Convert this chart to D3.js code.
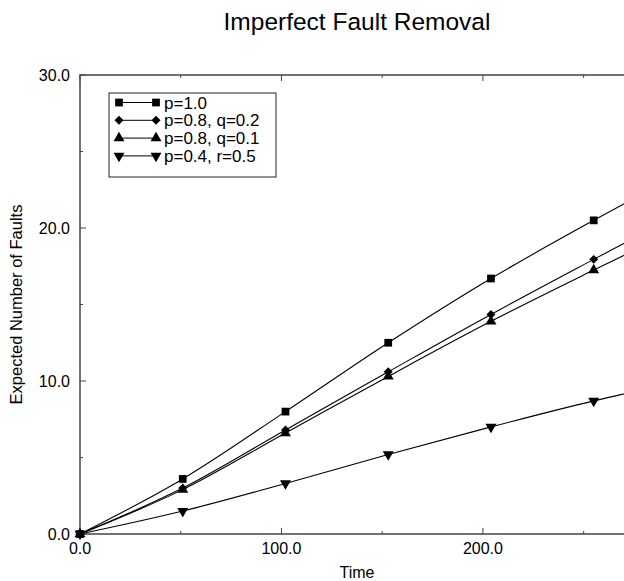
<!DOCTYPE html>
<html lang="en">
<head>
    <meta charset="UTF-8">
    <title>Imperfect Fault Removal</title>
    <style>
        body { margin: 0; background: #fff; }
        svg { display: block; font-family: 'Liberation Sans', Arial, sans-serif; }
    </style>
</head>
<body>
    <div id="chart"></div>
    <script src="https://d3js.org/d3.v7.min.js"></script>
    <script>
        // data (last point lies past the visible edge)
        const times = [0, 51, 102, 153, 204, 255, 306];
        const pFull = [0, 3.6, 8.0, 12.5, 16.7, 20.5, 24.1];
        const p8q2 = [0, 3.0, 6.8, 10.6, 14.35, 17.95, 21.5];
        const p8q1 = [0, 2.9, 6.6, 10.3, 13.9, 17.25, 20.5];
        const p4r5 = [0, 1.5, 3.3, 5.2, 7.0, 8.7, 10.2];
        const seriesNames = ['p=1.0', 'p=0.8, q=0.2', 'p=0.8, q=0.1', 'p=0.4, r=0.5'];
        const markerShapes = ['square', 'diamond', 'triangle', 'down'];
        const xTicks = [0, 100, 200];
        const xMinor = [50, 150, 250];
        const yTicks = [0, 10, 20, 30];
        const yMinor = [5, 15, 25];

        const width = 624, height = 581;
        const plotL = 80, plotR = 634, plotT = 75, plotB = 534;

        const x = d3.scaleLinear().domain([0, 275]).range([plotL, plotR]);
        const y = d3.scaleLinear().domain([0, 30]).range([plotB, plotT]);

        const svg = d3.select('#chart').append('svg')
            .attr('width', width)
            .attr('height', height);

        const frameColor = '#444';

        // ticks (pointing inward)
        const tickG = svg.append('g').attr('stroke', frameColor).attr('stroke-width', 1);
        xTicks.forEach(t => {
            tickG.append('line').attr('x1', x(t)).attr('x2', x(t)).attr('y1', plotB).attr('y2', plotB - 6);
            tickG.append('line').attr('x1', x(t)).attr('x2', x(t)).attr('y1', plotT).attr('y2', plotT + 6);
        });
        xMinor.forEach(t => {
            tickG.append('line').attr('x1', x(t)).attr('x2', x(t)).attr('y1', plotB).attr('y2', plotB - 3);
            tickG.append('line').attr('x1', x(t)).attr('x2', x(t)).attr('y1', plotT).attr('y2', plotT + 3);
        });
        yTicks.forEach(v => {
            tickG.append('line').attr('x1', plotL).attr('x2', plotL + 6).attr('y1', y(v)).attr('y2', y(v));
        });
        yMinor.forEach(v => {
            tickG.append('line').attr('x1', plotL).attr('x2', plotL + 3).attr('y1', y(v)).attr('y2', y(v));
        });

        // frame
        svg.append('rect')
            .attr('x', plotL).attr('y', plotT)
            .attr('width', plotR - plotL).attr('height', plotB - plotT)
            .attr('fill', 'none')
            .attr('stroke', frameColor)
            .attr('stroke-width', 1.5);

        // tick labels
        svg.append('g').selectAll('text')
            .data(xTicks).enter().append('text')
            .attr('x', d => x(d))
            .attr('y', plotB + 20)
            .attr('text-anchor', 'middle')
            .style('font-size', '16px')
            .text(d => d.toFixed(1));

        svg.append('g').selectAll('text')
            .data(yTicks).enter().append('text')
            .attr('x', plotL - 10)
            .attr('y', d => y(d))
            .attr('dy', '0.36em')
            .attr('text-anchor', 'end')
            .style('font-size', '16px')
            .text(d => d.toFixed(1));

        // titles
        svg.append('text')
            .attr('x', 357).attr('y', 30)
            .attr('text-anchor', 'middle')
            .style('font-size', '24.5px')
            .text('Imperfect Fault Removal');

        svg.append('text')
            .attr('x', 357).attr('y', 578)
            .attr('text-anchor', 'middle')
            .style('font-size', '16px')
            .text('Time');

        svg.append('text')
            .attr('transform', `translate(22, ${(plotT + plotB) / 2}) rotate(-90)`)
            .attr('text-anchor', 'middle')
            .style('font-size', '16.5px')
            .text('Expected Number of Faults');

        const symbolFor = {
            square: d3.symbol().type(d3.symbolSquare).size(60),
            diamond: d3.symbol().type(d3.symbolSquare).size(40),
            triangle: d3.symbol().type(d3.symbolTriangle).size(52),
            down: d3.symbol().type(d3.symbolTriangle).size(52)
        };
        const rot = s => s === 'down' ? ' rotate(180)' : (s === 'diamond' ? ' rotate(45)' : '');

        const allSeries = [pFull, p8q2, p8q1, p4r5];
        const line = d3.line()
            .x((d, i) => x(times[i]))
            .y(d => y(d))
            .curve(d3.curveMonotoneX);

        allSeries.forEach((vals, k) => {
            svg.append('path')
                .attr('d', line(vals))
                .attr('fill', 'none')
                .attr('stroke', '#000')
                .attr('stroke-width', 1.1);
            svg.append('g').selectAll('path')
                .data(vals).enter().append('path')
                .attr('d', symbolFor[markerShapes[k]]())
                .attr('transform', (d, i) => `translate(${x(times[i])},${y(d)})${rot(markerShapes[k])}`)
                .attr('fill', '#000');
        });

        // legend
        const lg = svg.append('g');
        lg.append('rect')
            .attr('x', 109).attr('y', 93)
            .attr('width', 167).attr('height', 84)
            .attr('fill', '#fff')
            .attr('stroke', '#222')
            .attr('stroke-width', 1);
        seriesNames.forEach((name, k) => {
            const ry = 102.5 + k * 17.8;
            lg.append('line')
                .attr('x1', 119).attr('x2', 156)
                .attr('y1', ry).attr('y2', ry)
                .attr('stroke', '#000').attr('stroke-width', 1);
            [119, 156].forEach(px => {
                lg.append('path')
                    .attr('d', symbolFor[markerShapes[k]]())
                    .attr('transform', `translate(${px},${ry})${rot(markerShapes[k])}`)
                    .attr('fill', '#000');
            });
            lg.append('text')
                .attr('x', 164).attr('y', ry)
                .attr('dy', '0.36em')
                .style('font-size', '17px')
                .text(name);
        });
    </script>
</body>
</html>
